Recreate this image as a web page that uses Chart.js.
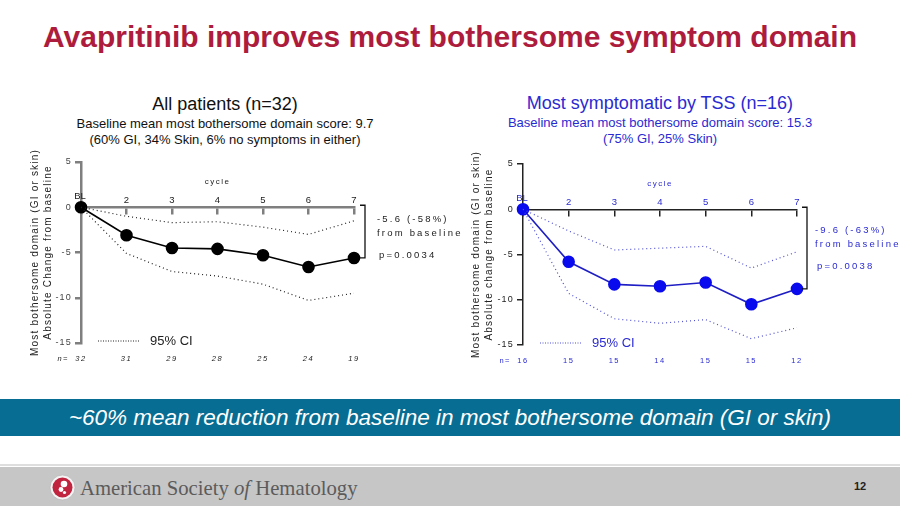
<!DOCTYPE html>
<html>
<head>
<meta charset="utf-8">
<script src="https://cdn.jsdelivr.net/npm/chart.js@4"></script>
<style>
  body { margin: 0; width: 900px; height: 506px; overflow: hidden; background: #fff; font-family: Arial, "Liberation Sans", sans-serif; position: relative; }
  .abs { position: absolute; }
  #title { left: 0; width: 900px; top: 18px; text-align: center; font-size: 30px; font-weight: bold; color: #ad1c3c; line-height: 38px; }
  .sub { text-align: center; line-height: 16px; }
  .sub .h { font-size: 18px; line-height: 22px; margin-bottom: 1px; }
  .sub .t { font-size: 13px; }
  #subL { left: 25px; width: 400px; top: 93px; color: #111; }
  #subR { left: 460px; width: 400px; top: 92px; color: #2a2ad2; }
  canvas { position: absolute; }
  #banner { left: 0; top: 399px; width: 900px; height: 37px; background: #076d92; color: #fff; font-style: italic; font-size: 22.5px; line-height: 37px; text-align: center; }
  #footline { left: 0; top: 464px; width: 900px; height: 2px; background: #dedede; }
  #footer { left: 0; top: 467px; width: 900px; height: 39px; background: #c6c6c6; }
  #ash { left: 80px; top: 476px; font-family: "Liberation Serif", "DejaVu Serif", serif; font-size: 20.7px; color: #5b5b5b; line-height: 24px; }
  #page { left: 854px; top: 480px; font-size: 11px; font-weight: bold; color: #222; }
</style>
</head>
<body>
<div id="title" class="abs">Avapritinib improves most bothersome symptom domain</div>
<div id="subL" class="abs sub">
  <div class="h">All patients (n=32)</div>
  <div class="t">Baseline mean most bothersome domain score: 9.7</div>
  <div class="t">(60% GI, 34% Skin, 6% no symptoms in either)</div>
</div>
<div id="subR" class="abs sub">
  <div class="h">Most symptomatic by TSS (n=16)</div>
  <div class="t">Baseline mean most bothersome domain score: 15.3</div>
  <div class="t">(75% GI, 25% Skin)</div>
</div>
<canvas id="tss" width="450" height="235" style="left:450px;top:140px"></canvas>
<canvas id="all" width="480" height="235" style="left:0;top:140px"></canvas>
<div id="banner" class="abs">~60% mean reduction from baseline in most bothersome domain (GI or skin)</div>
<div id="footline" class="abs"></div>
<div id="footer" class="abs"></div>
<svg class="abs" style="left:49px;top:474px" width="27" height="27" viewBox="0 0 27 27">
  <circle cx="13.5" cy="13.5" r="12.5" fill="#f4f4f4" stroke="#b9b9b9" stroke-width="0.8"/>
  <circle cx="13.5" cy="13.5" r="10" fill="#c0243e"/>
  <circle cx="15" cy="10" r="3.3" fill="#fff"/>
  <circle cx="12" cy="15.5" r="2.4" fill="#fff"/>
  <circle cx="15.5" cy="18.5" r="1.6" fill="#fff"/>
</svg>
<div id="ash" class="abs">American Society <i>of</i> Hematology</div>
<div id="page" class="abs">12</div>

<script>
var cycles = ['BL', '2', '3', '4', '5', '6', '7'];
var yTicks = [5, 0, -5, -10, -15];

// all patients (n=32)
var allMean = [0, -3.1, -4.5, -4.6, -5.3, -6.6, -5.6];
var allUpper = [0, -1.0, -1.7, -1.6, -2.2, -3.0, -1.5];
var allLower = [0, -5.1, -7.1, -7.6, -8.5, -10.3, -9.5];
var allN = [32, 31, 29, 28, 25, 24, 19];
var allNote = ['-5.6 (-58%)', 'from baseline', 'p=0.0034'];

// most symptomatic by TSS (n=16)
var tssMean = [0, -5.8, -8.3, -8.5, -8.1, -10.5, -8.8];
var tssUpper = [0, -2.4, -4.5, -4.3, -4.1, -6.5, -4.7];
var tssLower = [0, -9.3, -12.1, -12.6, -12.2, -14.3, -13.1];
var tssN = [16, 15, 15, 14, 15, 15, 12];
var tssNote = ['-9.6 (-63%)', 'from baseline', 'p=0.0038'];

var extras = {
    id: 'extras',
    beforeDraw: function (chart) {
        chart.ctx.letterSpacing = '1.2px';
    },
    afterDraw: function (chart) {
        var o = chart.options.plugins.extras;
        var c = chart.ctx, a = chart.chartArea;
        var xs = chart.scales.x, ys = chart.scales.y;
        var y0 = ys.getPixelForValue(0);
        c.save();
        c.fillStyle = o.text;
        c.strokeStyle = o.text;
        c.textAlign = 'center';
        c.textBaseline = 'bottom';
        c.font = '9.5px Arial';
        c.letterSpacing = '0px';
        cycles.forEach(function (lab, i) {
            c.fillText(lab, xs.getPixelForValue(i) + (i == 0 ? -1 : 0), y0 - (i == 0 ? 6 : 2));
        });
        c.letterSpacing = '1.5px';
        c.font = '8px Arial';
        c.textBaseline = 'middle';
        c.fillText('cycle', (a.left + a.right) / 2, y0 - 25);

        // bracket to the last mean
        var yEnd = ys.getPixelForValue(o.mean[o.mean.length - 1]);
        var bx = a.right + o.bracketX;
        c.strokeStyle = '#111';
        c.lineWidth = 1.3;
        c.beginPath();
        c.moveTo(bx - 5, y0 - 2); c.lineTo(bx, y0 - 2); c.lineTo(bx, yEnd); c.lineTo(bx - 5, yEnd);
        c.stroke();
        c.textAlign = 'left';
        c.font = '9.5px Arial';
        c.letterSpacing = '2.2px';
        o.note.forEach(function (s, i) {
            c.fillText(s, a.right + o.noteX + (i == 2 ? 2 : 0), y0 + o.noteY[i]);
        });

        // 95% CI key
        c.strokeStyle = o.ci;
        c.lineWidth = 1.2;
        c.setLineDash([1, 1.5]);
        c.beginPath();
        c.moveTo(a.left + 17, a.bottom - 2); c.lineTo(a.left + 58, a.bottom - 2);
        c.stroke();
        c.setLineDash([]);
        c.letterSpacing = '0px';
        c.font = '13px Arial';
        c.fillText('95% CI', a.left + 69, a.bottom - 2);

        // n per visit
        c.letterSpacing = '1.5px';
        c.font = o.nItalic ? 'italic 7.5px Arial' : '7.5px Arial';
        c.textAlign = 'right';
        c.fillText('n=', a.left - 12, a.bottom + 16);
        c.textAlign = 'center';
        o.n.forEach(function (v, i) {
            c.fillText(String(v), xs.getPixelForValue(i), a.bottom + 16);
        });
        c.restore();
        c.letterSpacing = '0px';
    }
};

function makeChart(id, mean, upper, lower, nList, note, st) {
    var ctx = document.getElementById(id).getContext('2d');
    return new Chart(ctx, {
        type: 'line',
        data: {
            labels: cycles,
            datasets: [{
                data: upper,
                borderColor: st.ci,
                borderWidth: 1.2,
                borderDash: [1, 3],
                pointRadius: 0,
                fill: false
            }, {
                data: lower,
                borderColor: st.ci,
                borderWidth: 1.2,
                borderDash: [1, 3],
                pointRadius: 0,
                fill: false
            }, {
                data: mean,
                borderColor: st.line,
                borderWidth: 1.6,
                pointRadius: 5.5,
                pointBackgroundColor: st.dot,
                pointBorderColor: st.dot,
                fill: false
            }]
        },
        options: {
            responsive: false,
            animation: false,
            layout: { padding: { top: st.padTop, bottom: st.padBottom, right: st.padRight, left: 0 } },
            plugins: {
                legend: { display: false },
                tooltip: { enabled: false },
                extras: { mean: mean, n: nList, note: note, text: st.text, ci: st.ci, nItalic: st.nItalic,
                          bracketX: st.bracketX, noteX: st.noteX, noteY: st.noteY }
            },
            scales: {
                x: {
                    type: 'category',
                    position: { y: 0 },
                    offset: false,
                    grid: { drawOnChartArea: false, tickLength: 6, color: st.axis, lineWidth: st.axisWidth },
                    border: { color: st.axis, width: st.axisWidth },
                    ticks: { display: false }
                },
                y: {
                    min: -15,
                    max: 5,
                    afterBuildTicks: function (scale) {
                        scale.ticks = yTicks.map(function (v) { return { value: v }; });
                    },
                    afterFit: function (scale) { scale.width = st.yWidth; },
                    grid: { drawOnChartArea: false, tickLength: 6, color: st.axis, lineWidth: st.axisWidth },
                    border: { color: st.axis, width: st.axisWidth },
                    ticks: { color: st.tick, font: { size: 9, family: 'Arial' }, padding: 3 },
                    title: {
                        display: true,
                        text: ['Most bothersome domain (GI or skin)', st.yTitle2],
                        color: '#222',
                        font: { size: 10, family: 'Arial', lineHeight: 1.3 },
                        padding: { top: st.titlePad, bottom: 0 }
                    }
                }
            }
        },
        plugins: [extras]
    });
}

makeChart('all', allMean, allUpper, allLower, allN, allNote, {
    ci: '#222', line: '#000', dot: '#000', text: '#222', tick: '#444',
    axis: '#7f7f7f', axisWidth: 2.5, nItalic: true,
    padTop: 22, padBottom: 32, padRight: 126, yWidth: 81, titlePad: 29,
    yTitle2: 'Absolute Change from baseline',
    bracketX: 11, noteX: 23, noteY: [12, 26, 48]
});

makeChart('tss', tssMean, tssUpper, tssLower, tssN, tssNote, {
    ci: '#4f4fd2', line: '#1e1ec4', dot: '#0a0aee', text: '#2a2ad2', tick: '#222',
    axis: '#222', axisWidth: 1.5, nItalic: false,
    padTop: 24, padBottom: 30, padRight: 103, yWidth: 73, titlePad: 19.5,
    yTitle2: 'Absolute change from baseline',
    bracketX: 10, noteX: 18, noteY: [21, 35, 57]
});
</script>
</body>
</html>
